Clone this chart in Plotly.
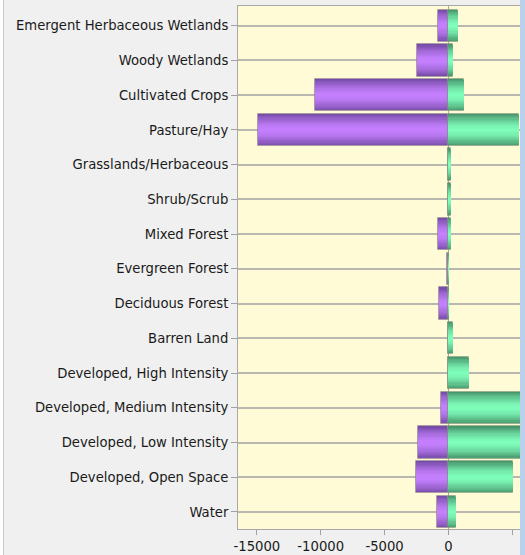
import plotly.graph_objects as go

# Land-cover classes, listed top to bottom
categories = [
    "Emergent Herbaceous Wetlands",
    "Woody Wetlands",
    "Cultivated Crops",
    "Pasture/Hay",
    "Grasslands/Herbaceous",
    "Shrub/Scrub",
    "Mixed Forest",
    "Evergreen Forest",
    "Deciduous Forest",
    "Barren Land",
    "Developed, High Intensity",
    "Developed, Medium Intensity",
    "Developed, Low Intensity",
    "Developed, Open Space",
    "Water",
]

# Losses (negative) and gains (positive) per class
losses = [-780, -2430, -10430, -14950, 0, 0, -780, -120, -700, 0, 0, -600, -2400, -2530, -910]
gains = [780, 350, 1200, 5510, 180, 190, 190, 40, 30, 370, 1640, 6500, 7500, 5090, 580]

x_ticks = [-15000, -10000, -5000, 0, 5000]

BAR_W = 0.93
N_LAYERS = 14


def mix(c1, c2, t):
    return "#%02x%02x%02x" % tuple(round(a + (b - a) * t) for a, b in zip(c1, c2))


fig = go.Figure()

# Each series is drawn as stacked bands of shrinking width, dark at the
# edges and light in the middle, to give the bars a cylindrical shading.
series = [
    (losses, (0x76, 0x4c, 0xa8), (0xc6, 0x80, 0xff)),
    (gains, (0x48, 0x96, 0x6c), (0x80, 0xff, 0xbc)),
]
for values, dark, light in series:
    for i in range(N_LAYERS):
        d = 1 - i / N_LAYERS
        width = BAR_W * d
        color = mix(light, dark, d ** 1.6)
        fig.add_trace(go.Bar(
            y=categories,
            x=values,
            orientation="h",
            width=width,
            marker=dict(
                color=color,
                line=dict(width=1 if i == 0 else 0, color="rgba(150,150,130,0.45)"),
            ),
            showlegend=False,
            hoverinfo="x+y",
        ))

label_font = dict(family="DejaVu Sans, Verdana, sans-serif", size=13.2, color="#1a1a1a")

fig.update_layout(
    width=525,
    height=555,
    barmode="overlay",
    paper_bgcolor="#f0f0f0",
    plot_bgcolor="#fffbd6",
    margin=dict(l=238, r=5, t=6, b=26),
    font=label_font,
    bargap=0,
    xaxis=dict(
        range=[-16480, 5610],
        tickvals=x_ticks,
        ticktext=[str(v) for v in x_ticks],
        showgrid=False,
        zeroline=True,
        zerolinecolor="#a8a8a0",
        zerolinewidth=1,
        showline=True,
        mirror=True,
        linecolor="#a8a8a8",
        ticks="outside",
        ticklen=5,
        tickcolor="#a0a0a0",
        tickfont=label_font,
        automargin=False,
    ),
    yaxis=dict(
        type="category",
        categoryorder="array",
        categoryarray=categories,
        range=[14.49, -0.567],
        showgrid=True,
        gridcolor="#b8b8b0",
        gridwidth=1.5,
        showline=True,
        mirror=True,
        linecolor="#a8a8a8",
        ticks="outside",
        ticklen=6,
        tickcolor="#a0a0a0",
        tickfont=label_font,
        automargin=False,
    ),
    shapes=[
        # window frame strip on the right edge
        dict(type="rect", xref="paper", yref="paper",
             x0=1.0, x1=1.03, y0=-0.06, y1=1.02,
             fillcolor="#b9d1ea", line=dict(width=0), layer="above"),
        # thin frame line on the left edge
        dict(type="rect", xref="paper", yref="paper",
             x0=-238 / 282, x1=-235 / 282, y0=-0.06, y1=1.02,
             fillcolor="#ffffff", line=dict(width=0)),
        dict(type="line", xref="paper", yref="paper",
             x0=-234.5 / 282, x1=-234.5 / 282, y0=-0.06, y1=1.02,
             line=dict(color="#c8c8c8", width=1)),
    ],
)

fig.write_html("out.html")
